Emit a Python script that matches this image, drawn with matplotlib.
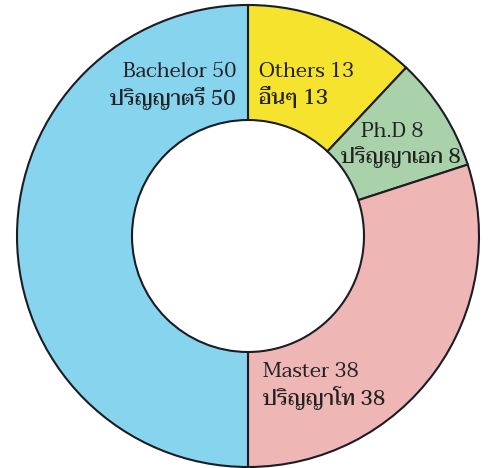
import matplotlib
matplotlib.use('Agg')
import matplotlib.pyplot as plt

# slices go clockwise from the top
names_en = ['Others', 'Ph.D', 'Master', 'Bachelor']
names_th = ['อื่นๆ', 'ปริญญาเอก', 'ปริญญาโท', 'ปริญญาตรี']
counts = [13, 8, 38, 50]          # numbers written in the labels
shares = [12, 8, 30, 50]          # slice sizes as drawn
colors = ['#f5e32e', '#aad2aa', '#efb6b6', '#87d4ef']

W, H = 491, 468
fig = plt.figure(figsize=(W / 100, H / 100), dpi=100)
ax = fig.add_axes([0, 0, 1, 1])

ax.pie(shares, colors=colors, startangle=90, counterclock=False,
       center=(248, H - 236), radius=231,
       wedgeprops=dict(width=115, edgecolor='#1c1c24', linewidth=1.5))
ax.set_xlim(0, W)
ax.set_ylim(0, H)
ax.axis('off')

font = ['Taviraj', 'DejaVu Sans']
# (x, y of line 1, y of line 2, alignment) in pixels from top-left
spots = [(259, 72, 98, 'left'),
         (None, 132, 157, 'center'),
         (263, 372, 398, 'left'),
         (236, 72, 98, 'right')]
phd_x = (392, 401)

for i, (x, y1, y2, ha) in enumerate(spots):
    x1, x2 = (x, x) if x is not None else phd_x
    ax.text(x1, H - y1, f'{names_en[i]} {counts[i]}', ha=ha, va='center',
            fontsize=15, family=font, color='#222222')
    ax.text(x2, H - y2, f'{names_th[i]} {counts[i]}', ha=ha, va='center',
            fontsize=15, family=font, fontweight='medium', color='#222222')

fig.savefig('out.png', dpi=100)
